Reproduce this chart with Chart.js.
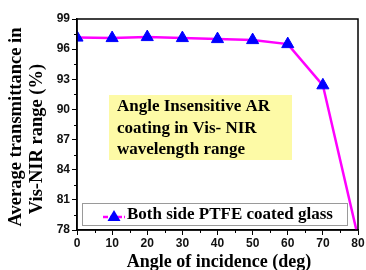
<!DOCTYPE html>
<html>
<head>
<meta charset="utf-8">
<script src="https://cdn.jsdelivr.net/npm/chart.js@4/dist/chart.umd.min.js"></script>
<style>
  html, body { margin: 0; padding: 0; background: #fff; }
  #wrap { position: relative; width: 366px; height: 270px; }
</style>
</head>
<body>
<div id="wrap"><canvas id="chart" width="366" height="270"></canvas></div>
<script>
/* ---------- data ---------- */
const angles = [0, 10, 20, 30, 40, 50, 60, 70, 80];
const transmittance = [97.15, 97.1, 97.2, 97.1, 97.0, 96.9, 96.5, 92.4, 77.3];
const yTicks = [78, 81, 84, 87, 90, 93, 96, 99];
const xTicks = [0, 10, 20, 30, 40, 50, 60, 70, 80];
const seriesLabel = "Both side PTFE coated glass";
const noteLines = ["Angle Insensitive AR", "coating in Vis- NIR", "wavelength range"];
const yTitleLines = ["Average transmittance in", "Vis-NIR range (%)"];
const xTitle = "Angle of incidence (deg)";

const SERIF = "'Liberation Serif', 'DejaVu Serif', serif";
const SANS = "'Liberation Sans', Arial, sans-serif";

/* ---------- frame, minor ticks, titles, note and legend ---------- */
const decorations = {
  id: "decorations",
  beforeDatasetsDraw(chart) {
    const { ctx } = chart;
    ctx.save();
    // yellow note box
    ctx.fillStyle = "#fdfaa6";
    ctx.fillRect(109, 95, 183, 65);
    ctx.restore();
  },
  afterDraw(chart) {
    const { ctx, chartArea: a, scales: { x, y } } = chart;
    ctx.save();

    // frame
    ctx.strokeStyle = "#000";
    ctx.lineWidth = 1.5;
    ctx.strokeRect(a.left, a.top, a.right - a.left, a.bottom - a.top);

    // minor ticks
    ctx.lineWidth = 1;
    ctx.beginPath();
    for (let v = 79.5; v < 99; v += 3) {
      const py = Math.round(y.getPixelForValue(v)) + 0.5;
      ctx.moveTo(a.left - 3, py); ctx.lineTo(a.left, py);
    }
    for (let v = 5; v < 80; v += 10) {
      const px = Math.round(x.getPixelForValue(v)) + 0.5;
      ctx.moveTo(px, a.bottom); ctx.lineTo(px, a.bottom + 3);
    }
    ctx.stroke();

    // note text
    ctx.fillStyle = "#000";
    ctx.font = "bold 17px " + SERIF;
    ctx.textAlign = "left";
    ctx.textBaseline = "middle";
    [107, 129, 150].forEach((py, i) => ctx.fillText(noteLines[i], 117, py));

    // legend box
    ctx.fillStyle = "#fff";
    ctx.fillRect(82, 203, 265, 22);
    ctx.strokeStyle = "#9a9a9a";
    ctx.lineWidth = 1;
    ctx.strokeRect(82.5, 203.5, 265, 22);
    ctx.strokeStyle = "#ff00ff";
    ctx.lineWidth = 2.5;
    ctx.setLineDash([5, 2]);
    ctx.beginPath();
    ctx.moveTo(103, 217); ctx.lineTo(125, 217);
    ctx.stroke();
    ctx.setLineDash([]);
    ctx.fillStyle = "#0000ff";
    ctx.beginPath();
    ctx.moveTo(114, 210); ctx.lineTo(120.5, 221); ctx.lineTo(107.5, 221);
    ctx.closePath(); ctx.fill();
    ctx.fillStyle = "#000";
    ctx.font = "bold 17px " + SERIF;
    ctx.fillText(seriesLabel, 127, 215);

    // axis titles
    ctx.textAlign = "center";
    ctx.font = "bold 18px " + SERIF;
    ctx.fillText(xTitle, 219, 262);
    ctx.font = "bold 18.5px " + SERIF;
    ctx.save();
    ctx.translate(16, 127);
    ctx.rotate(-Math.PI / 2);
    ctx.fillText(yTitleLines[0], 0, 0);
    ctx.restore();
    ctx.save();
    ctx.translate(37, 139);
    ctx.rotate(-Math.PI / 2);
    ctx.fillText(yTitleLines[1], 0, 0);
    ctx.restore();

    ctx.restore();
  }
};

new Chart(document.getElementById("chart"), {
  type: "line",
  data: {
    labels: angles,
    datasets: [{
      label: seriesLabel,
      data: angles.map((a, i) => ({ x: a, y: transmittance[i] })),
      borderColor: "#ff00ff",
      borderWidth: 2.5,
      tension: 0,
      pointStyle: "triangle",
      pointRadius: 7,
      pointBackgroundColor: "#0000ff",
      pointBorderColor: "#0000ff",
      pointBorderWidth: 1
    }]
  },
  options: {
    responsive: false,
    animation: false,
    layout: { padding: { top: 19, right: 7, left: 0, bottom: 0 } },
    plugins: { legend: { display: false }, tooltip: { enabled: false } },
    scales: {
      x: {
        type: "linear",
        min: 0, max: 80,
        afterFit(s) { s.height = 40; },
        afterBuildTicks(s) { s.ticks = xTicks.map(v => ({ value: v })); },
        grid: { drawOnChartArea: false, tickLength: 5, color: "#000", lineWidth: 1 },
        border: { color: "#000", width: 1.5 },
        ticks: { color: "#111", font: { family: SANS, size: 12, weight: "bold" }, padding: 1, maxRotation: 0 }
      },
      y: {
        min: 78, max: 99,
        afterFit(s) { s.width = 77; },
        afterBuildTicks(s) { s.ticks = yTicks.map(v => ({ value: v })); },
        grid: { drawOnChartArea: false, tickLength: 5, color: "#000", lineWidth: 1 },
        border: { color: "#000", width: 1.5 },
        ticks: { color: "#111", font: { family: SANS, size: 12, weight: "bold" }, padding: 2 }
      }
    }
  },
  plugins: [decorations]
});
</script>
</body>
</html>
